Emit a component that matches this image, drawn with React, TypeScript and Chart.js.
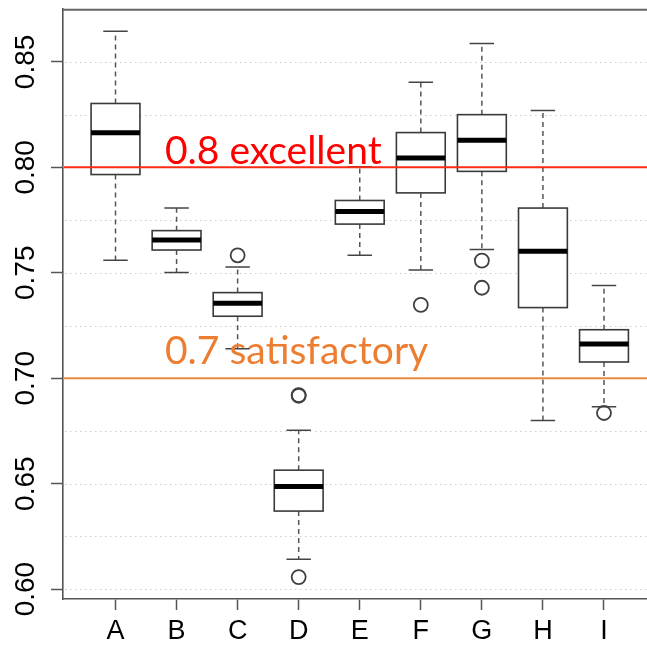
import React, { useEffect, useRef } from 'react';
import { Chart, registerables } from 'chart.js';

Chart.register(...registerables);

// ---------- data ----------
const CATEGORIES = ['A', 'B', 'C', 'D', 'E', 'F', 'G', 'H', 'I'];
const WHISKER_LOW = [0.756, 0.7501, 0.714, 0.6142, 0.7583, 0.7513, 0.761, 0.6799, 0.6865];
const Q1 = [0.7966, 0.7608, 0.7294, 0.637, 0.7731, 0.7879, 0.7981, 0.7335, 0.7077];
const MEDIAN = [0.8164, 0.7656, 0.7355, 0.6486, 0.7791, 0.8044, 0.8129, 0.7602, 0.7162];
const Q3 = [0.8303, 0.77, 0.7406, 0.6564, 0.7843, 0.8165, 0.825, 0.7807, 0.723];
const WHISKER_HIGH = [0.8645, 0.7807, 0.7527, 0.6753, 0.8003, 0.8404, 0.8588, 0.827, 0.744];
const OUTLIERS = [[], [], [0.7583], [0.692, 0.6917, 0.6057], [], [0.7348], [0.7558, 0.7429], [], [0.6835]];

const Y_TICKS = [0.6, 0.65, 0.7, 0.75, 0.8, 0.85];
const Y_TICK_LABELS = ['0.60', '0.65', '0.70', '0.75', '0.80', '0.85'];
const Y_GRID = [0.6, 0.625, 0.65, 0.675, 0.7, 0.725, 0.75, 0.775, 0.8, 0.825, 0.85];

const THRESHOLD_VALUES = [0.8, 0.7];
const THRESHOLD_LABELS = ['0.8 excellent', '0.7 satisfactory'];

// ---------- styling / layout constants ----------
const Y_MIN = 0.5953;
const Y_MAX = 0.8752;
const X_MIN = 0.14;
const X_MAX = 9.86;
const BOX_HALF = 0.4;
const STAPLE_HALF = 0.2;
const LINE_COLORS = ['#FF2A12', '#EF8840'];
const TEXT_COLORS = ['#FF0000', '#ED7D31'];
const TEXT_X = 1.81;
const TEXT_BASELINE_OFFSET = [3.5, 14];

const CANVAS_W = 680;
const CANVAS_H = 646;

const boxPlugin = {
  id: 'boxplots',
  beforeDatasetsDraw(chart: any) {
    const { ctx, chartArea, scales } = chart;
    const x = scales.x;
    const y = scales.y;
    ctx.save();
    // dotted grid
    ctx.strokeStyle = '#cdcdcd';
    ctx.lineWidth = 1;
    ctx.setLineDash([1.5, 3.5]);
    Y_GRID.forEach((v) => {
      const py = Math.round(y.getPixelForValue(v)) + 0.5;
      ctx.beginPath();
      ctx.moveTo(chartArea.left + 2, py);
      ctx.lineTo(chartArea.right, py);
      ctx.stroke();
    });
    ctx.setLineDash([]);

    CATEGORIES.forEach((_, i) => {
      const pos = i + 1;
      const cx = x.getPixelForValue(pos);
      const bl = x.getPixelForValue(pos - BOX_HALF);
      const br = x.getPixelForValue(pos + BOX_HALF);
      const sl = x.getPixelForValue(pos - STAPLE_HALF);
      const sr = x.getPixelForValue(pos + STAPLE_HALF);
      const yLow = y.getPixelForValue(WHISKER_LOW[i]);
      const yQ1 = y.getPixelForValue(Q1[i]);
      const yMed = y.getPixelForValue(MEDIAN[i]);
      const yQ3 = y.getPixelForValue(Q3[i]);
      const yHigh = y.getPixelForValue(WHISKER_HIGH[i]);

      // whiskers (dashed)
      ctx.strokeStyle = '#555';
      ctx.lineWidth = 1.5;
      ctx.setLineDash([5, 4]);
      ctx.beginPath();
      ctx.moveTo(cx, yQ3);
      ctx.lineTo(cx, yHigh);
      ctx.moveTo(cx, yQ1);
      ctx.lineTo(cx, yLow);
      ctx.stroke();
      ctx.setLineDash([]);

      // staples
      ctx.strokeStyle = '#444';
      ctx.beginPath();
      ctx.moveTo(sl, yHigh);
      ctx.lineTo(sr, yHigh);
      ctx.moveTo(sl, yLow);
      ctx.lineTo(sr, yLow);
      ctx.stroke();

      // box
      ctx.fillStyle = '#ffffff';
      ctx.fillRect(bl, yQ3, br - bl, yQ1 - yQ3);
      ctx.strokeStyle = '#3a3a3a';
      ctx.lineWidth = 1.6;
      ctx.strokeRect(bl, yQ3, br - bl, yQ1 - yQ3);

      // median
      ctx.strokeStyle = '#000';
      ctx.lineWidth = 5;
      ctx.beginPath();
      ctx.moveTo(bl, yMed);
      ctx.lineTo(br, yMed);
      ctx.stroke();
    });
    ctx.restore();
  },
  afterDatasetsDraw(chart: any) {
    const { ctx, chartArea, scales } = chart;
    const x = scales.x;
    const y = scales.y;
    ctx.save();
    THRESHOLD_VALUES.forEach((v, i) => {
      const py = y.getPixelForValue(v);
      ctx.strokeStyle = LINE_COLORS[i];
      ctx.lineWidth = 2;
      ctx.beginPath();
      ctx.moveTo(chartArea.left + 1, py);
      ctx.lineTo(chartArea.right, py);
      ctx.stroke();
      ctx.fillStyle = TEXT_COLORS[i];
      ctx.font = '39px Lato, "Open Sans", sans-serif';
      ctx.textAlign = 'left';
      ctx.textBaseline = 'alphabetic';
      ctx.fillText(THRESHOLD_LABELS[i], x.getPixelForValue(TEXT_X), py - TEXT_BASELINE_OFFSET[i]);
    });
    ctx.restore();
  },
  afterDraw(chart: any) {
    const { ctx, chartArea, scales } = chart;
    const y = scales.y;
    ctx.save();
    // top border of the plot box
    ctx.strokeStyle = '#666';
    ctx.lineWidth = 2;
    ctx.beginPath();
    ctx.moveTo(chartArea.left, chartArea.top + 1);
    ctx.lineTo(chartArea.right, chartArea.top + 1);
    ctx.stroke();
    // rotated y tick labels
    ctx.fillStyle = '#000';
    ctx.font = '28px "Liberation Sans", Arial, sans-serif';
    ctx.textAlign = 'center';
    ctx.textBaseline = 'middle';
    Y_TICKS.forEach((v, i) => {
      const py = y.getPixelForValue(v);
      ctx.save();
      ctx.translate(26, py);
      ctx.rotate(-Math.PI / 2);
      ctx.fillText(Y_TICK_LABELS[i], 0, 0);
      ctx.restore();
    });
    ctx.restore();
  },
};

export default function App() {
  const canvasRef = useRef<HTMLCanvasElement | null>(null);

  useEffect(() => {
    const canvas = canvasRef.current;
    if (!canvas) return;
    const outlierPoints: { x: number; y: number }[] = [];
    OUTLIERS.forEach((vals, i) => vals.forEach((v) => outlierPoints.push({ x: i + 1, y: v })));

    const chart = new Chart(canvas, {
      type: 'scatter',
      data: {
        datasets: [
          {
            data: outlierPoints,
            pointStyle: 'circle',
            pointRadius: 7,
            pointBorderWidth: 1.8,
            borderColor: '#404040',
            backgroundColor: 'rgba(0,0,0,0)',
          },
        ],
      },
      options: {
        animation: false,
        responsive: false,
        devicePixelRatio: 1,
        layout: { padding: { top: 5, right: CANVAS_W - 656.5, left: 0, bottom: 0 } },
        plugins: { legend: { display: false }, tooltip: { enabled: false }, title: { display: false } },
        scales: {
          x: {
            type: 'linear',
            min: X_MIN,
            max: X_MAX,
            afterBuildTicks: (scale: any) => {
              scale.ticks = CATEGORIES.map((_, i) => ({ value: i + 1 }));
            },
            afterFit: (scale: any) => {
              scale.height = 47;
            },
            ticks: {
              autoSkip: false,
              maxRotation: 0,
              minRotation: 0,
              padding: 5,
              color: '#000',
              font: { family: '"Liberation Sans", Arial, sans-serif', size: 27 },
              callback: (_v: any, index: number) => CATEGORIES[index],
            },
            grid: {
              drawOnChartArea: false,
              drawTicks: true,
              tickLength: 11,
              tickColor: '#555',
              tickWidth: 1.5,
            },
            border: { display: true, color: '#555', width: 1.6 },
          },
          y: {
            type: 'linear',
            min: Y_MIN,
            max: Y_MAX,
            afterBuildTicks: (scale: any) => {
              scale.ticks = Y_TICKS.map((v) => ({ value: v }));
            },
            afterFit: (scale: any) => {
              scale.width = 63;
            },
            ticks: { display: false },
            grid: {
              drawOnChartArea: false,
              drawTicks: true,
              tickLength: 12,
              tickColor: '#555',
              tickWidth: 1.5,
            },
            border: { display: true, color: '#555', width: 1.6 },
          },
        },
      },
      plugins: [boxPlugin],
    });
    return () => chart.destroy();
  }, []);

  return (
    <div style={{ position: 'fixed', left: 0, top: 0, width: 647, height: 646, overflow: 'hidden', background: '#fff' }}>
      <canvas ref={canvasRef} width={CANVAS_W} height={CANVAS_H} style={{ display: 'block', width: CANVAS_W, height: CANVAS_H }} />
    </div>
  );
}
